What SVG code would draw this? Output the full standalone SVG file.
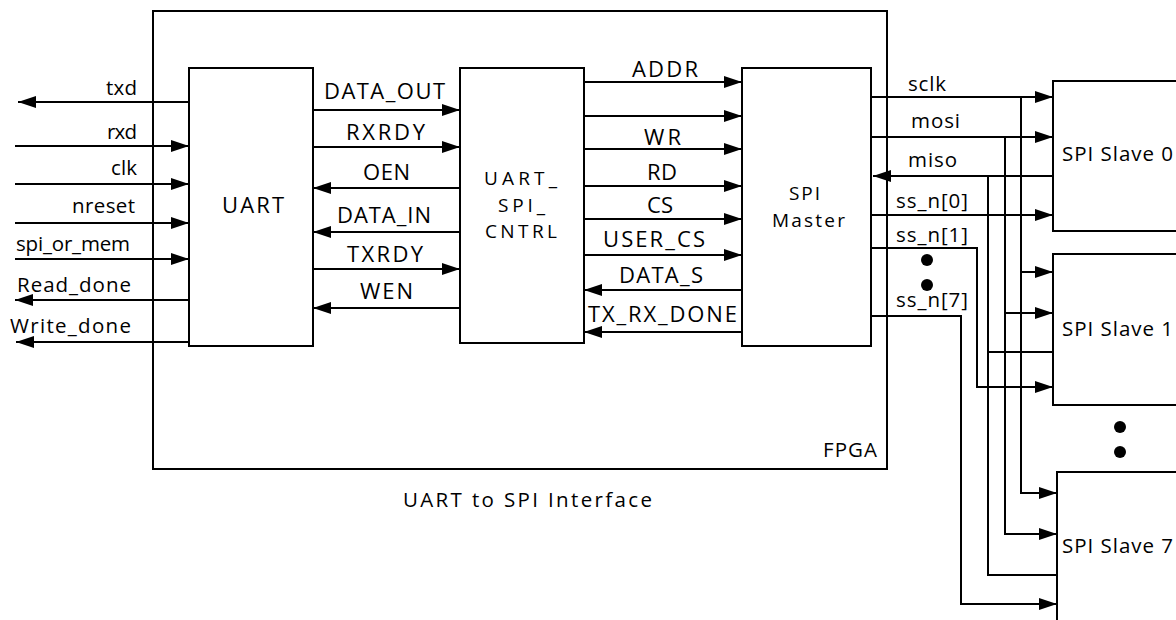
<svg xmlns="http://www.w3.org/2000/svg" width="1176" height="620" viewBox="0 0 1176 620">
<style>
.box{fill:#fff;stroke:#000;stroke-width:2}
.frame{fill:none;stroke:#000;stroke-width:2}
.w{fill:none;stroke:#000;stroke-width:2}
.a{marker-end:url(#arr)}
text{font-family:"Open Sans","Liberation Sans",sans-serif;fill:#000}
.s{font-size:20.5px}
.m{font-size:22px}
.ml{font-size:19px}
</style>
<defs>
<marker id="arr" markerUnits="userSpaceOnUse" markerWidth="18" markerHeight="12" refX="18" refY="6" orient="auto">
<path d="M0,0 L18,6 L0,12 z" fill="#000"/>
</marker>
</defs>
<rect id="fpga" class="frame" x="153" y="11" width="734" height="458"/>
<g id="connectors">
<path class="w a" d="M190,102 H18"/>
<path class="w a" d="M15,146 H189"/>
<path class="w a" d="M15,184 H189"/>
<path class="w a" d="M15,223 H189"/>
<path class="w a" d="M15,259 H189"/>
<path class="w a" d="M189,300 H15"/>
<path class="w a" d="M189,342 H16"/>
<path class="w a" d="M313,110 H460"/>
<path class="w a" d="M313,147 H460"/>
<path class="w a" d="M460,188 H313"/>
<path class="w a" d="M460,232 H313"/>
<path class="w a" d="M313,269 H460"/>
<path class="w a" d="M460,308 H313"/>
<path class="w a" d="M584,82 H742"/>
<path class="w a" d="M584,116 H742"/>
<path class="w a" d="M584,149 H742"/>
<path class="w a" d="M584,186 H742"/>
<path class="w a" d="M584,219 H742"/>
<path class="w a" d="M584,255 H742"/>
<path class="w a" d="M742,290 H584"/>
<path class="w a" d="M742,332 H584"/>
<path class="w a" d="M871,97 H1053"/>
<path class="w a" d="M1021,97 V493 H1057"/>
<path class="w a" d="M1021,272 H1053"/>
<path class="w a" d="M871,137 H1053"/>
<path class="w a" d="M1005,137 V534 H1057"/>
<path class="w a" d="M1005,313 H1053"/>
<path class="w a" d="M1053,176 H873"/>
<path class="w" d="M988,176 V575 H1057"/>
<path class="w" d="M988,352 H1053"/>
<path class="w a" d="M871,215 H1053"/>
<path class="w a" d="M871,248 H977 V387 H1053"/>
<path class="w a" d="M871,316 H961 V604 H1057"/>
</g>
<g id="uart">
<rect class="box" x="189" y="68" width="124" height="278"/>
<text class="m" x="222" y="213" textLength="62">UART</text>
</g>
<g id="cntrl">
<rect class="box" x="460" y="68" width="124" height="275"/>
<text class="ml" x="484" y="185" textLength="73">UART_</text>
<text class="ml" x="498" y="212" textLength="47">SPI_</text>
<text class="ml" x="485" y="238" textLength="72">CNTRL</text>
</g>
<g id="master">
<rect class="box" x="742" y="68" width="129" height="278"/>
<text class="ml" x="789" y="200" textLength="31">SPI</text>
<text class="ml" x="772" y="227" textLength="73">Master</text>
</g>
<g id="slave0">
<rect class="box" x="1053" y="81" width="130" height="150"/>
<text class="s" x="1062" y="161" textLength="111">SPI Slave 0</text>
</g>
<g id="slave1">
<rect class="box" x="1053" y="254" width="130" height="151"/>
<text class="s" x="1062" y="336" textLength="111">SPI Slave 1</text>
</g>
<g id="slave7">
<rect class="box" x="1057" y="472" width="130" height="160"/>
<text class="s" x="1062" y="553" textLength="111">SPI Slave 7</text>
</g>
<g id="dots">
<circle cx="927" cy="260" r="6"/>
<circle cx="927" cy="285" r="6"/>
<circle cx="1120" cy="427" r="6"/>
<circle cx="1120" cy="452" r="6"/>
</g>
<g id="labels">
<text class="s" x="106" y="95" textLength="31">txd</text>
<text class="s" x="107" y="139" textLength="30">rxd</text>
<text class="s" x="111" y="175" textLength="26">clk</text>
<text class="s" x="72" y="213" textLength="63">nreset</text>
<text class="s" x="16" y="251" textLength="114">spi_or_mem</text>
<text class="s" x="17" y="292" textLength="114">Read_done</text>
<text class="s" x="10" y="333" textLength="121">Write_done</text>
<text class="m" x="324" y="99" textLength="121">DATA_OUT</text>
<text class="m" x="346" y="140" textLength="79">RXRDY</text>
<text class="m" x="363" y="180" textLength="47">OEN</text>
<text class="m" x="337" y="223" textLength="94">DATA_IN</text>
<text class="m" x="347" y="262" textLength="76">TXRDY</text>
<text class="m" x="360" y="299" textLength="53">WEN</text>
<text class="m" x="632" y="77" textLength="66">ADDR</text>
<text class="m" x="644" y="145" textLength="37">WR</text>
<text class="m" x="647" y="180" textLength="30">RD</text>
<text class="m" x="647" y="213" textLength="26">CS</text>
<text class="m" x="603" y="247" textLength="102">USER_CS</text>
<text class="m" x="619" y="283" textLength="84">DATA_S</text>
<text class="m" x="588" y="322" textLength="149">TX_RX_DONE</text>
<text class="s" x="908" y="91" textLength="38">sclk</text>
<text class="s" x="911" y="128" textLength="49">mosi</text>
<text class="s" x="908" y="167" textLength="49">miso</text>
<text class="s" x="896" y="208" textLength="72">ss_n[0]</text>
<text class="s" x="896" y="242" textLength="72">ss_n[1]</text>
<text class="s" x="896" y="307" textLength="72">ss_n[7]</text>
<text class="s" x="823" y="457" textLength="54">FPGA</text>
<text class="s" x="403" y="507" textLength="249">UART to SPI  Interface</text>
</g>
</svg>
